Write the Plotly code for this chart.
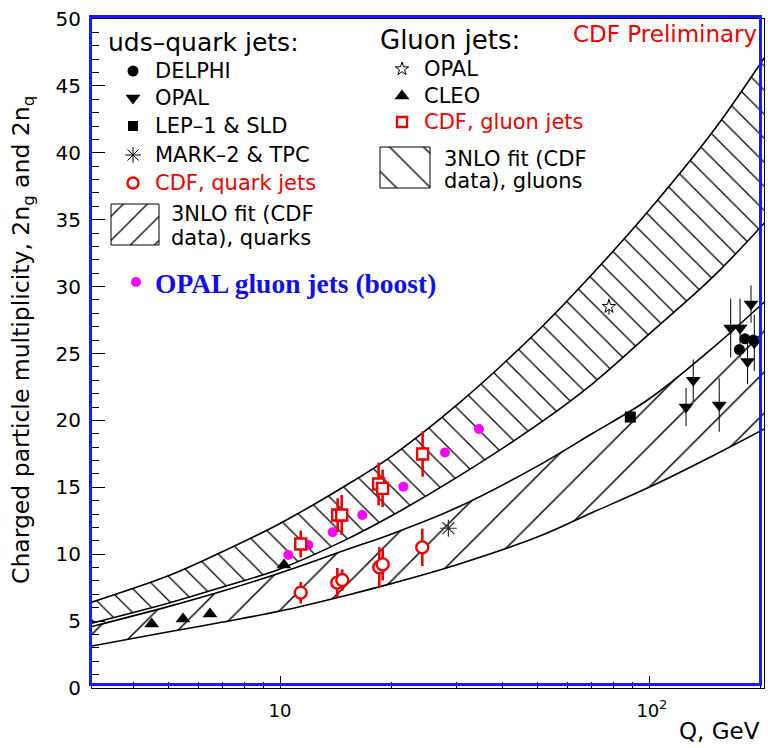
import math
import plotly.graph_objects as go

# ---------------- data ----------------
# 3NLO fit bands (CDF data)
Q_fit    = [3.0, 5, 7, 10, 15, 20, 30, 50, 70, 100, 150, 210]
gluon_hi = [6.3, 8.4, 10.2, 12.3, 15.1, 17.3, 21.1, 26.7, 30.9, 35.7, 41.7, 47.5]
gluon_lo = [4.75, 6.35, 7.55, 8.9, 11.05, 12.85, 15.7, 19.7, 22.7, 26.45, 30.8, 35.05]
quark_hi = [4.5, 6.1, 7.25, 8.6, 10.3, 11.5, 13.45, 16.6, 19.0, 21.6, 25.5, 29.1]
quark_lo = [3.07, 4.2, 4.93, 5.75, 6.9, 7.8, 9.2, 11.3, 13.1, 15.0, 17.4, 19.5]

# gluon jets
cleo_Q = [4.49, 5.46, 6.46, 10.25]
cleo_n = [4.78, 5.16, 5.53, 9.19]
opalg_Q = [77.9]
opalg_n = [28.5]
opalg_e = [0.6]
cdfg_Q = [11.38, 14.33, 14.7, 18.5, 18.97, 24.35]
cdfg_n = [10.76, 12.93, 12.93, 15.25, 14.92, 17.49]
cdfg_e = [1.0, 1.25, 1.5, 1.6, 1.4, 1.7]
boost_Q = [10.53, 11.93, 13.89, 16.71, 21.6, 28.0, 34.6]
boost_n = [9.94, 10.69, 11.64, 12.93, 15.05, 17.6, 19.36]

# uds-quark jets
delphi_Q = [175.8, 182.0, 191.7]
delphi_n = [25.3, 26.1, 26.0]
opalq_Q = [126.0, 131.8, 155.0, 166.5, 176.5, 189.0, 185.0, 192.9]
opalq_n = [21.0, 23.0, 21.15, 26.9, 26.9, 28.7, 24.4, 25.8]
opalq_e = [1.43, 1.55, 2.0, 2.2, 2.2, 1.4, 1.7, 2.1]
lep_Q = [89.0]
lep_n = [20.25]
mark_Q = [28.6]
mark_n = [11.94]
cdfq_Q = [11.38, 14.3, 14.75, 18.58, 18.98, 24.3]
cdfq_n = [7.12, 7.87, 8.07, 9.02, 9.24, 10.51]
cdfq_e = [0.8, 1.1, 0.8, 1.5, 1.2, 1.4]

x_tickvals = [10, 100]
x_ticktext = ["10", "&nbsp;10<sup>2</sup>"]
x_minor = [4, 5, 6, 7, 8, 9, 20, 30, 40, 50, 60, 70, 80, 90, 200]

# ---------------- layout geometry ----------------
W, H = 768, 748
L, R, T, B = 92, 764, 19, 688          # plot area in pixels
SANS = "DejaVu Sans"
RED = "#ee0000"
BLUE = "#1a1aff"


def px(x):
    return (x - L) / (R - L)


def py(y):
    return (B - y) / (B - T)


fig = go.Figure()

# ---------------- fit bands ----------------
fig.add_trace(go.Scatter(x=Q_fit, y=quark_lo, mode="lines",
                         line=dict(color="black", width=1.6, shape="spline")))
fig.add_trace(go.Scatter(x=Q_fit, y=quark_hi, mode="lines", fill="tonexty",
                         fillcolor="rgba(0,0,0,0)",
                         fillpattern=dict(shape="/", size=29, solidity=0.05,
                                          fgcolor="black", fgopacity=1),
                         line=dict(color="black", width=1.6, shape="spline")))
fig.add_trace(go.Scatter(x=Q_fit, y=gluon_lo, mode="lines",
                         line=dict(color="black", width=1.6, shape="spline")))
fig.add_trace(go.Scatter(x=Q_fit, y=gluon_hi, mode="lines", fill="tonexty",
                         fillcolor="rgba(0,0,0,0)",
                         fillpattern=dict(shape="\\", size=17, solidity=0.075,
                                          fgcolor="black", fgopacity=1),
                         line=dict(color="black", width=1.6, shape="spline")))

# ---------------- data points ----------------
fig.add_trace(go.Scatter(x=boost_Q, y=boost_n, mode="markers",
                         marker=dict(symbol="circle", size=10, color="#ff00ff")))
fig.add_trace(go.Scatter(x=cleo_Q, y=cleo_n, mode="markers",
                         marker=dict(symbol="triangle-up", size=13, color="black")))
fig.add_trace(go.Scatter(x=opalg_Q, y=opalg_n, mode="markers",
                         error_y=dict(type="data", array=opalg_e, width=0,
                                      color="black", thickness=1),
                         marker=dict(symbol="star", size=10, color="white",
                                     line=dict(color="black", width=1))))
fig.add_trace(go.Scatter(x=opalq_Q, y=opalq_n, mode="markers",
                         error_y=dict(type="data", array=opalq_e, width=0,
                                      color="black", thickness=1),
                         marker=dict(symbol="triangle-down", size=13, color="black")))
fig.add_trace(go.Scatter(x=delphi_Q, y=delphi_n, mode="markers",
                         marker=dict(symbol="circle", size=11, color="black")))
fig.add_trace(go.Scatter(x=lep_Q, y=lep_n, mode="markers",
                         marker=dict(symbol="square", size=11, color="black")))
fig.add_trace(go.Scatter(x=mark_Q, y=mark_n, mode="markers",
                         marker=dict(symbol="asterisk-open", size=14, color="#333333",
                                     line=dict(color="#333333", width=1.2))))
fig.add_trace(go.Scatter(x=cdfq_Q, y=cdfq_n, mode="markers",
                         error_y=dict(type="data", array=cdfq_e, width=0,
                                      color=RED, thickness=2.6),
                         marker=dict(symbol="circle", size=12, color="white",
                                     line=dict(color=RED, width=2.4))))
fig.add_trace(go.Scatter(x=cdfg_Q, y=cdfg_n, mode="markers",
                         error_y=dict(type="data", array=cdfg_e, width=0,
                                      color=RED, thickness=2.6),
                         marker=dict(symbol="square", size=11, color="white",
                                     line=dict(color=RED, width=2.4))))

# ---------------- legend (overlay pixel axes) ----------------
def leg_marker(x, y, **mk):
    fig.add_trace(go.Scatter(x=[x], y=[y], mode="markers", xaxis="x2", yaxis="y2",
                             cliponaxis=False, marker=mk))


def leg_box(x0, x1, y0, y1, shape, size, sol):
    fig.add_trace(go.Scatter(x=[x0, x1, x1, x0, x0], y=[y0, y0, y1, y1, y0],
                             mode="lines", xaxis="x2", yaxis="y2", fill="toself",
                             fillcolor="rgba(0,0,0,0)",
                             fillpattern=dict(shape=shape, size=size, solidity=sol,
                                              fgcolor="black", fgopacity=1),
                             line=dict(color="black", width=1)))


leg_marker(133, 71, symbol="circle", size=11, color="black")
leg_marker(133, 98, symbol="triangle-down", size=13, color="black")
leg_marker(133, 126, symbol="square", size=10, color="black")
leg_marker(133, 155, symbol="asterisk-open", size=13, color="black",
           line=dict(color="black", width=1))
leg_marker(133, 183, symbol="circle-open", size=11, color=RED,
           line=dict(color=RED, width=2.4))
leg_box(111, 159, 204, 245, "/", 17, 0.075)
leg_marker(136, 282, symbol="circle", size=10, color="#ff00ff")

leg_marker(402, 69, symbol="star-open", size=10, color="black",
           line=dict(color="black", width=1))
leg_marker(402, 96, symbol="triangle-up", size=13, color="black")
leg_marker(402, 122, symbol="square-open", size=10, color=RED,
           line=dict(color=RED, width=2.4))
leg_box(380, 430, 147, 188, "\\", 24, 0.055)

ann = []


def text(x, y, s, size, color="black", family=SANS, xanchor="left", **kw):
    ann.append(dict(x=px(x), y=py(y), xref="paper", yref="paper", text=s,
                    showarrow=False, xanchor=xanchor, yanchor="middle",
                    font=dict(family=family, size=size, color=color), **kw))


text(106, 42, "uds–quark jets:", 25)
text(153, 71, "DELPHI", 21)
text(153, 98, "OPAL", 21)
text(153, 126, "LEP–1 &amp; SLD", 21)
text(153, 155, "MARK–2 &amp; TPC", 21)
text(153, 183, "CDF, quark jets", 21, color=RED)
text(169, 214, "3NLO fit (CDF", 21)
text(169, 238, "data), quarks", 21)
text(153, 283, "<b>OPAL gluon jets (boost)</b>", 27.5, color="#1010ee",
     family="Liberation Serif")

text(378, 40, "Gluon jets:", 26)
text(422, 69, "OPAL", 21)
text(422, 96, "CLEO", 21)
text(422, 122, "CDF, gluon jets", 21, color=RED)
text(442, 159, "3NLO fit (CDF", 21)
text(442, 181, "data), gluons", 21)
text(759, 34, "CDF Preliminary", 23, color=RED, xanchor="right")

# axis titles
text(22, 340, "Charged particle multiplicity, 2n<sub>g</sub> and 2n<sub>q</sub>", 23.5,
     xanchor="center", textangle=-90)
text(762, 731, "Q, GeV", 23, xanchor="right")

fig.update_layout(
    width=W, height=H,
    margin=dict(l=L, r=W - R, t=T, b=H - B),
    paper_bgcolor="white", plot_bgcolor="white",
    showlegend=False,
    annotations=ann,
    xaxis=dict(type="log",
               range=[1 + (L - 280) / 369, 1 + (R - 280) / 369],
               showgrid=False, zeroline=False,
               showline=True, linecolor="black", linewidth=1, mirror=True,
               ticks="inside", ticklen=12, tickwidth=1, tickcolor="black",
               tickvals=x_tickvals, ticktext=x_ticktext,
               tickfont=dict(family=SANS, size=18, color="black"),
               ticklabelstandoff=6,
               minor=dict(ticks="inside", tickvals=x_minor, ticklen=6,
                          tickwidth=1, tickcolor="black", showgrid=False)),
    yaxis=dict(range=[0, 50], showgrid=False, zeroline=False,
               showline=True, linecolor="black", linewidth=1, mirror=True,
               ticks="inside", ticklen=13, tickwidth=1, tickcolor="black",
               tickmode="linear", tick0=0, dtick=5,
               tickfont=dict(family=SANS, size=20, color="black"),
               ticklabelstandoff=6,
               minor=dict(ticks="inside", dtick=1, ticklen=7, tickwidth=1,
                          tickcolor="black", showgrid=False)),
    xaxis2=dict(overlaying="x", range=[L, R], visible=False),
    yaxis2=dict(overlaying="y", range=[B, T], visible=False),
    shapes=[dict(type="rect", xref="paper", yref="paper",
                 x0=px(90.5), x1=px(760.5), y0=py(684.5), y1=py(16.5),
                 line=dict(color=BLUE, width=3), layer="above")],
)

fig.write_html("out.html",
               config={"displayModeBar": False},
               post_script="document.body.style.margin='0';"
                           "document.body.style.padding='0';")
